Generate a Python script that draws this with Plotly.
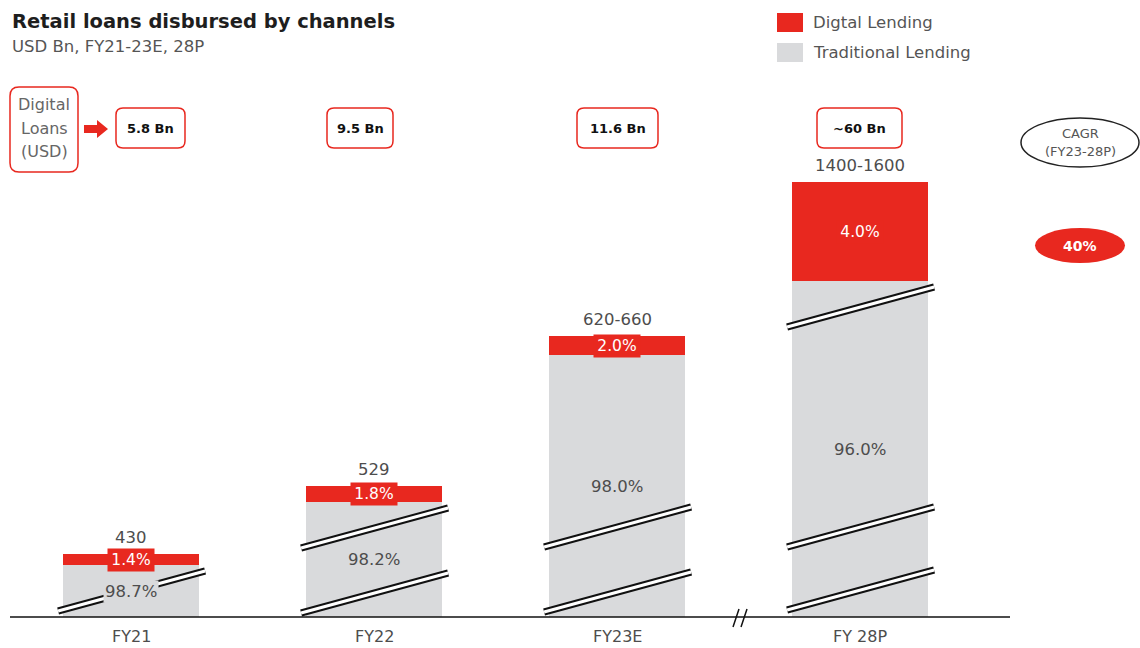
import plotly.graph_objects as go

# ---------------- data ----------------
categories = ["FY21", "FY22", "FY23E", "FY 28P"]
total_labels = ["430", "529", "620-660", "1400-1600"]
digital_share = ["1.4%", "1.8%", "2.0%", "4.0%"]
traditional_share = ["98.7%", "98.2%", "98.0%", "96.0%"]
digital_loans_usd = ["5.8 Bn", "9.5 Bn", "11.6 Bn", "~60 Bn"]
# bar lengths as drawn in the source (illustrative, broken bars, not to scale)
traditional_drawn = [52, 115, 262, 336]
digital_drawn = [11, 16, 19, 99]
# broken-bar marker levels (drawn units at the left end of each marker)
break_levels = [[6], [4, 69], [5, 70], [7, 70, 290]]
cagr_value = "40%"
cagr_lines = ["CAGR", "(FY23-28P)"]
legend_names = ["Digtal Lending", "Traditional Lending"]

# ---------------- style / layout ----------------
W, H = 1140, 648
RED = "#E8281F"
GRAY = "#D9DADC"
TXT = "#4d4d4d"
FONT = "DejaVu Sans"
BAR_W = 0.56
BASE_PX = 617          # pixel row of the zero line
UNIT_PX = 243          # pixels between category centres
X0_PX = 131            # pixel column of first category

def px(v):
    return v / W

def py(v):
    return 1 - v / H

def rrect_path(x0, y0, x1, y1, r):
    pts = [
        ("M", [(x0 + r, y0)]),
        ("L", [(x1 - r, y0)]),
        ("Q", [(x1, y0), (x1, y0 + r)]),
        ("L", [(x1, y1 - r)]),
        ("Q", [(x1, y1), (x1 - r, y1)]),
        ("L", [(x0 + r, y1)]),
        ("Q", [(x0, y1), (x0, y1 - r)]),
        ("L", [(x0, y0 + r)]),
        ("Q", [(x0, y0), (x0 + r, y0)]),
    ]
    s = ""
    for cmd, ps in pts:
        s += cmd + " " + " ".join(f"{px(a):.5f},{py(b):.5f}" for a, b in ps) + " "
    return s + "Z"

def ptext(xp, yp, text, size, color, anchor="center", bold=False):
    return dict(x=px(xp), y=py(yp), xref="paper", yref="paper", xanchor=anchor,
                yanchor="middle", showarrow=False,
                text=f"<b>{text}</b>" if bold else text,
                font=dict(family=FONT, size=size, color=color))

x = list(range(len(categories)))

fig = go.Figure()
fig.add_bar(x=x, y=traditional_drawn, name=legend_names[1], marker_color=GRAY,
            marker_line_width=0, width=BAR_W, showlegend=False, hoverinfo="skip")
fig.add_bar(x=x, y=digital_drawn, name=legend_names[0], marker_color=RED,
            marker_line_width=0, width=BAR_W, showlegend=False, hoverinfo="skip")

shapes = []
annotations = []

# baseline + axis break
shapes.append(dict(type="line", xref="paper", yref="y", x0=px(10), x1=px(1010), y0=0, y1=0,
                   line=dict(color="#111", width=1.5), layer="above"))
for dx in (0, 8):
    shapes.append(dict(type="line", xref="paper", yref="paper",
                       x0=px(733 + dx), y0=py(627), x1=px(739 + dx), y1=py(609),
                       line=dict(color="#111", width=1.5), layer="above"))

# broken-bar markers
for i, levels in enumerate(break_levels):
    for lv in levels:
        for col, wd in (("#111", 7), ("white", 3)):
            shapes.append(dict(type="line", xref="x", yref="y",
                               x0=i - 0.30, x1=i + 0.305, y0=lv, y1=lv + 40,
                               line=dict(color=col, width=wd), layer="above"))

# value labels on / above bars
for i in x:
    tot = traditional_drawn[i] + digital_drawn[i]
    annotations.append(dict(x=i, y=tot, xref="x", yref="y", text=total_labels[i],
                            showarrow=False, xanchor="center", yanchor="middle", yshift=17,
                            font=dict(family=FONT, size=16.5, color=TXT)))
    annotations.append(dict(x=i, y=traditional_drawn[i] + digital_drawn[i] / 2, xref="x", yref="y",
                            text=digital_share[i], showarrow=False, bgcolor=RED,
                            xanchor="center", yanchor="middle",
                            width=46, height=22, borderpad=0,
                            font=dict(family=FONT, size=15.5, color="white")))
    annotations.append(dict(x=i, y=traditional_drawn[i] / 2, xref="x", yref="y",
                            text=traditional_share[i], showarrow=False, bgcolor=GRAY,
                            xanchor="center", yanchor="middle", borderpad=1,
                            font=dict(family=FONT, size=16.5, color=TXT)))
    annotations.append(dict(x=i, y=0, xref="x", yref="y", text=categories[i],
                            showarrow=False, xanchor="center", yanchor="top", yshift=-8,
                            font=dict(family=FONT, size=16, color=TXT)))

# title + subtitle
annotations.append(ptext(10, 21, "Retail loans disbursed by channels", 19.5, "#1e1e1e",
                         anchor="left", bold=True))
annotations.append(ptext(10, 47, "USD Bn, FY21-23E, 28P", 16.5, "#555", anchor="left"))

# legend
for (y0, y1), col, name in (((13, 32), RED, legend_names[0]), ((43, 62), GRAY, legend_names[1])):
    shapes.append(dict(type="rect", xref="paper", yref="paper", x0=px(777), x1=px(803),
                       y0=py(y1), y1=py(y0), fillcolor=col, line=dict(width=0)))
    annotations.append(ptext(811, (y0 + y1) / 2, name, 16.5, "#555", anchor="left"))

# "Digital Loans (USD)" box + arrow
shapes.append(dict(type="path", xref="paper", yref="paper", path=rrect_path(10, 87, 78, 172, 9),
                   line=dict(color=RED, width=1.5), fillcolor="white", layer="below"))
for t, yy in (("Digital", 104), ("Loans", 128), ("(USD)", 152)):
    annotations.append(ptext(44, yy, t, 16, "#666"))
arrow = [(84, 125), (97, 125), (97, 120), (108, 129), (97, 138), (97, 133), (84, 133)]
shapes.append(dict(type="path", xref="paper", yref="paper", fillcolor=RED, line=dict(width=0),
                   path="M " + " L ".join(f"{px(a):.5f},{py(b):.5f}" for a, b in arrow) + " Z"))

# digital loan value boxes
box_px = [(116, 185), (327, 393), (577, 658), (817, 902)]
for (bx0, bx1), t in zip(box_px, digital_loans_usd):
    shapes.append(dict(type="path", xref="paper", yref="paper", path=rrect_path(bx0, 108, bx1, 148, 7),
                       line=dict(color=RED, width=1.5), fillcolor="white", layer="below"))
    annotations.append(ptext((bx0 + bx1) / 2, 128, t, 13, "#111", bold=True))

# CAGR ellipses
shapes.append(dict(type="circle", xref="paper", yref="paper", x0=px(1021), x1=px(1139),
                   y0=py(167), y1=py(118), line=dict(color="#222", width=1.5), fillcolor="white",
                   layer="below"))
for t, yy in zip(cagr_lines, (133, 152)):
    annotations.append(ptext(1080, yy, t, 13, "#555"))
shapes.append(dict(type="circle", xref="paper", yref="paper", x0=px(1035), x1=px(1125),
                   y0=py(263), y1=py(228), line=dict(width=0), fillcolor=RED))
annotations.append(ptext(1080, 246, cagr_value, 14, "white", bold=True))

fig.update_layout(
    width=W, height=H, barmode="stack",
    margin=dict(l=0, r=0, t=0, b=0, pad=0),
    paper_bgcolor="white", plot_bgcolor="white",
    xaxis=dict(visible=False, range=[-X0_PX / UNIT_PX, (W - X0_PX) / UNIT_PX], fixedrange=True),
    yaxis=dict(visible=False, range=[-(H - BASE_PX), BASE_PX], fixedrange=True),
    shapes=shapes, annotations=annotations, showlegend=False,
    font=dict(family=FONT),
)

fig.write_html("out.html", config={"displayModeBar": False},
               post_script="document.body.style.margin='0';document.body.style.overflow='hidden';")
